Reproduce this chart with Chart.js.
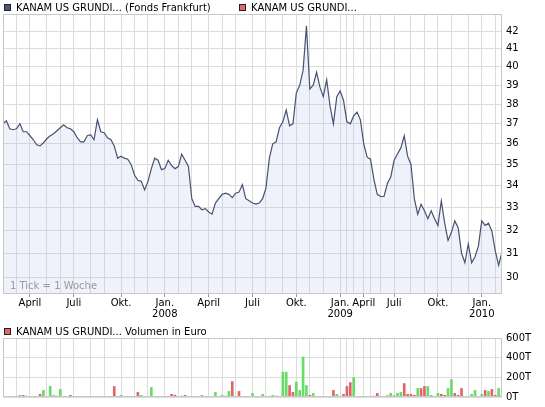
<!DOCTYPE html>
<html>
<head>
<meta charset="utf-8">
<script src="https://cdn.jsdelivr.net/npm/chart.js@4.4.0/dist/chart.umd.min.js"></script>
<style>
    html, body { margin: 0; padding: 0; background: #fff; }
    #wrap { position: relative; width: 545px; height: 407px; }
    #priceBox { position: absolute; left: 0; top: 0; width: 545px; height: 322px; }
    #volBox { position: absolute; left: 0; top: 322px; width: 545px; height: 85px; }
</style>
</head>
<body>
<div id="wrap">
    <div id="priceBox"><canvas id="priceChart"></canvas></div>
    <div id="volBox"><canvas id="volumeChart"></canvas></div>
</div>
<script>
// --- Data ---
// months covered by the weekly series, and how many weekly quotes fall in each
const monthKeys = [
    '2007-02', '2007-03', '2007-04', '2007-05', '2007-06', '2007-07', '2007-08', '2007-09', '2007-10', '2007-11', '2007-12',
    '2008-01', '2008-02', '2008-03', '2008-04', '2008-05', '2008-06', '2008-07', '2008-08', '2008-09', '2008-10', '2008-11', '2008-12',
    '2009-01', '2009-02', '2009-03', '2009-04', '2009-05', '2009-06', '2009-07', '2009-08', '2009-09', '2009-10', '2009-11', '2009-12',
    '2010-01', '2010-02'
];
const weeksPerMonth = [
    4, 4, 5, 4, 4, 5, 4, 5, 4, 4, 5,
    4, 4, 5, 4, 4, 5, 4, 5, 4, 4, 4, 5,
    2, 2, 3, 2, 3, 4, 5, 4, 4, 4, 5, 4,
    4, 3
];
const quarterNames = { 1: 'Jan.', 4: 'April', 7: 'Juli', 10: 'Okt.' };

// weekly price (Fonds Frankfurt)
const prices = [
    37.0, 37.15, 36.75, 36.7, 36.75, 37.0, 36.6, 36.6, 36.4, 36.2,
    35.95, 35.9, 36.05, 36.25, 36.4, 36.5, 36.65, 36.8, 36.95, 36.8,
    36.75, 36.6, 36.3, 36.1, 36.1, 36.4, 36.45, 36.2, 37.2, 36.6,
    36.55, 36.3, 36.2, 35.9, 35.3, 35.4, 35.3, 35.25, 35.0, 34.5,
    34.25, 34.2, 33.8, 34.2, 34.8, 35.3, 35.2, 34.75, 34.8, 35.2,
    34.95, 34.8, 34.9, 35.5, 35.2, 34.9, 33.4, 33.05, 33.05, 32.9,
    32.95, 32.8, 32.7, 33.2, 33.4, 33.6, 33.65, 33.6, 33.45, 33.65,
    33.7, 34.05, 33.4, 33.3, 33.2, 33.15, 33.2, 33.4, 33.9, 35.3,
    36.0, 36.1, 36.8, 37.1, 37.7, 36.9, 37.0, 38.6, 39.0, 39.8,
    42.3, 38.8, 39.0, 39.7, 38.9, 38.4, 39.3, 37.9, 37.0, 38.4,
    38.7, 38.2, 37.1, 37.0, 37.4, 37.6, 37.2, 36.0, 35.35, 35.25,
    34.3, 33.6, 33.5, 33.5, 34.1, 34.4, 35.2, 35.5, 35.8, 36.4,
    35.4, 35.0, 33.4, 32.7, 33.15, 32.85, 32.5, 32.85, 32.5, 32.2,
    33.3, 32.3, 31.55, 31.9, 32.4, 32.1, 31.0, 30.6, 31.4, 30.6,
    30.85, 31.3, 32.4, 32.2, 32.3, 31.95, 31.1, 30.5, 31.05
];

// weekly volume in thousand euro (T)
const volumes = [
    0, 0, 0, 0, 0, 17, 17, 10, 0, 0,
    0, 27, 67, 0, 110, 17, 10, 77, 0, 0,
    17, 0, 0, 0, 0, 0, 0, 0, 7, 0,
    0, 7, 0, 107, 0, 17, 0, 0, 0, 0,
    47, 17, 0, 0, 97, 0, 0, 0, 0, 7,
    27, 20, 7, 10, 17, 7, 0, 0, 7, 17,
    0, 0, 0, 47, 0, 17, 10, 57, 157, 0,
    57, 0, 7, 7, 37, 7, 0, 27, 7, 0,
    17, 10, 0, 253, 253, 117, 47, 153, 67, 407,
    117, 17, 37, 0, 0, 0, 7, 0, 67, 27,
    7, 27, 107, 147, 197, 0, 0, 0, 7, 7,
    10, 37, 0, 0, 17, 37, 17, 37, 47, 137,
    27, 27, 17, 87, 87, 107, 107, 17, 0, 37,
    27, 17, 87, 177, 37, 17, 87, 7, 7, 27,
    67, 7, 27, 67, 57, 77, 17, 87, 17
];
// 1 = price up, -1 = price down, 0 = unchanged
const volumeDirs = [
    0, 0, 0, 0, 0, 1, -1, 1, 0, 0,
    0, -1, 1, 0, 1, 1, 1, 1, 0, 0,
    -1, 0, 0, 0, 0, 0, 0, 0, 1, 0,
    0, -1, 0, -1, 0, 1, 0, 0, 0, 0,
    -1, 1, 0, 0, 1, 0, 0, 0, 0, 1,
    -1, -1, 1, 1, -1, 1, 0, 0, -1, 1,
    0, 0, 0, 1, 0, 1, 1, 1, -1, 0,
    -1, 0, -1, -1, 1, -1, 0, 1, 1, 0,
    1, -1, 0, 1, 1, -1, -1, 1, 1, 1,
    1, -1, 1, 0, 0, 0, 1, 0, -1, 1,
    1, -1, -1, -1, 1, 0, 0, 0, -1, -1,
    1, -1, 0, 0, 0, 1, 0, 1, 1, -1,
    -1, -1, -1, 1, -1, -1, 1, 1, 0, 1,
    -1, -1, 1, 1, -1, -1, -1, 1, 1, 1,
    1, 1, 1, -1, 1, -1, -1, 1, -1
];

const priceTicks = [30, 31, 32, 33, 34, 35, 36, 37, 38, 39, 40, 41, 42];
const volumeTicks = [0, 200, 400, 600];

// --- Build week categories ---
const weekLabels = [];
const weekMonth = [];
monthKeys.forEach(function(key, m) {
    for (let w = 0; w < weeksPerMonth[m]; w++) {
        weekLabels.push(key + '/' + (w + 1));
        weekMonth.push(key);
    }
});
const isMonthStart = weekMonth.map((k, i) => i > 0 && k !== weekMonth[i - 1]);
const isQuarterStart = weekMonth.map((k, i) => isMonthStart[i] && quarterNames[Number(k.split('-')[1])] !== undefined);

// --- Styles ---
const gridColor = '#dcdcdc';
const frameColor = '#c8c8c8';
const lineColor = '#465270';
const fillColor = 'rgba(180, 195, 235, 0.22)';
const upColor = '#66dd66';
const downColor = '#e06666';
const flatColor = '#bbbbbb';
const fontFamily = 'DejaVu Sans';

Chart.defaults.font.family = fontFamily;
Chart.defaults.font.size = 10;
Chart.defaults.color = '#000';

// frame around the plot area
const frame = {
    id: 'frame',
    afterDraw(chart) {
        const a = chart.chartArea;
        const ctx = chart.ctx;
        ctx.save();
        ctx.strokeStyle = frameColor;
        ctx.lineWidth = 1;
        ctx.strokeRect(Math.round(a.left) + 0.5, Math.round(a.top) + 0.5,
            Math.round(a.right - a.left) - 1, Math.round(a.bottom - a.top) - 1);
        ctx.restore();
    }
};

// small legend drawn at the top of a chart
function legendPlugin(id, items, y) {
    return {
        id: id,
        afterDraw(chart) {
            const ctx = chart.ctx;
            ctx.save();
            ctx.font = '10px "' + fontFamily + '"';
            ctx.textBaseline = 'middle';
            items.forEach(function(it) {
                ctx.fillStyle = it.color;
                ctx.fillRect(it.x, y - 3.5, 7, 7);
                ctx.strokeStyle = '#222';
                ctx.strokeRect(it.x + 0.5, y - 3.5 + 0.5, 6, 6);
                ctx.fillStyle = '#000';
                ctx.fillText(it.text, it.x + 12, y + 0.5);
            });
            ctx.restore();
        }
    };
}

const weekNote = {
    id: 'weekNote',
    afterDraw(chart) {
        const ctx = chart.ctx;
        ctx.save();
        ctx.font = '10px "' + fontFamily + '"';
        ctx.fillStyle = '#9a9a9a';
        ctx.textBaseline = 'middle';
        ctx.fillText('1 Tick = 1 Woche', chart.chartArea.left + 7, chart.chartArea.bottom - 8);
        ctx.restore();
    }
};

function monthGrid(ctx) {
    return isMonthStart[ctx.index] ? gridColor : 'rgba(0,0,0,0)';
}

// 1. Price chart (line, log scale)
new Chart(document.getElementById('priceChart').getContext('2d'), {
    type: 'line',
    data: {
        labels: weekLabels,
        datasets: [{
            label: 'KANAM US GRUNDI... (Fonds Frankfurt)',
            data: prices,
            borderColor: lineColor,
            borderWidth: 1.2,
            backgroundColor: fillColor,
            fill: 'start',
            pointRadius: 0,
            tension: 0
        }]
    },
    options: {
        responsive: true,
        maintainAspectRatio: false,
        animation: false,
        layout: { padding: { top: 14, left: 3, right: 0, bottom: 0 } },
        plugins: { legend: { display: false }, tooltip: { enabled: false } },
        scales: {
            x: {
                type: 'category',
                offset: false,
                border: { display: false },
                grid: {
                    color: monthGrid,
                    drawTicks: true,
                    tickLength: 3,
                    tickColor: ctx => isQuarterStart[ctx.index] ? '#999' : 'rgba(0,0,0,0)'
                },
                ticks: {
                    autoSkip: false,
                    maxRotation: 0,
                    minRotation: 0,
                    padding: 1,
                    font: { size: 10, lineHeight: 1.1 },
                    callback: function(value, index) {
                        if (!isQuarterStart[index]) return '';
                        const parts = weekMonth[index].split('-');
                        const m = Number(parts[1]);
                        if (m === 1) return ['Jan.', parts[0]];
                        return quarterNames[m];
                    }
                },
                afterFit: function(scale) { scale.height = 28; }
            },
            y: {
                type: 'logarithmic',
                position: 'right',
                min: 29.32,
                max: 42.99,
                border: { display: false },
                grid: { color: gridColor, drawTicks: false },
                ticks: { padding: 4, callback: v => String(v) },
                afterBuildTicks: function(scale) {
                    scale.ticks = priceTicks.map(v => ({ value: v }));
                },
                afterFit: function(scale) { scale.width = 43; }
            }
        }
    },
    plugins: [frame, weekNote, legendPlugin('priceLegend', [
        { color: '#4a5878', text: 'KANAM US GRUNDI... (Fonds Frankfurt)', x: 4 },
        { color: '#e06a6a', text: 'KANAM US GRUNDI...', x: 239 }
    ], 7.5)]
});

// 2. Volume chart (bars)
new Chart(document.getElementById('volumeChart').getContext('2d'), {
    type: 'bar',
    data: {
        labels: weekLabels,
        datasets: [{
            label: 'KANAM US GRUNDI... Volumen in Euro',
            data: volumes,
            backgroundColor: ctx => {
                const d = volumeDirs[ctx.dataIndex];
                return d > 0 ? upColor : (d < 0 ? downColor : flatColor);
            },
            borderWidth: 0,
            barThickness: 2
        }]
    },
    options: {
        responsive: true,
        maintainAspectRatio: false,
        animation: false,
        layout: { padding: { top: 16, left: 3, right: 0, bottom: 9 } },
        plugins: { legend: { display: false }, tooltip: { enabled: false } },
        scales: {
            x: {
                offset: false,
                border: { display: false },
                grid: { color: monthGrid, drawTicks: false, offset: false },
                ticks: { display: false }
            },
            y: {
                position: 'right',
                min: 0,
                max: 600,
                border: { display: false },
                grid: { color: gridColor, drawTicks: false },
                ticks: { padding: 4, callback: v => v + 'T' },
                afterBuildTicks: function(scale) {
                    scale.ticks = volumeTicks.map(v => ({ value: v }));
                },
                afterFit: function(scale) { scale.width = 43; }
            }
        }
    },
    plugins: [frame, legendPlugin('volumeLegend', [
        { color: '#e06a6a', text: 'KANAM US GRUNDI... Volumen in Euro', x: 4 }
    ], 9.5)]
});
</script>
</body>
</html>
